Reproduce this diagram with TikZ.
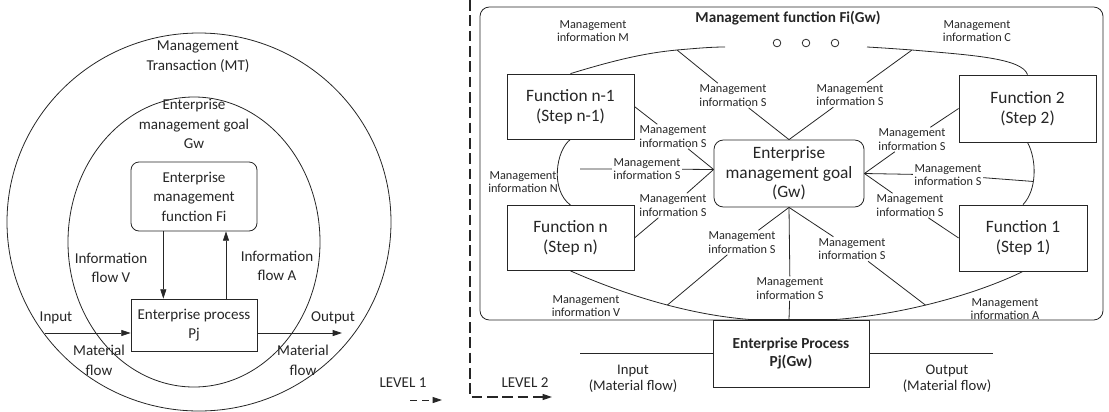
\documentclass[tikz,border=0pt]{standalone}
\usepackage{fontspec}
\setmainfont{Carlito}
\usetikzlibrary{arrows.meta}

\tikzset{
  ln/.style={line width=0.6pt, draw=black!85},
  arr/.style={ln, -{Triangle[length=7pt,width=4.5pt]}},
  lvldash/.style={line width=0.9pt, dash pattern=on 8pt off 3.5pt},
  lefttxt/.style={align=center, inner sep=1pt, text=black!85, font=\fontsize{11.3}{14.6}\selectfont},
  leftbox/.style={lefttxt, ln, inner sep=3pt, minimum width=94.5pt},
  info/.style={align=center, inner sep=1pt, text=black!85, font=\fontsize{9.2}{10}\selectfont},
  iotxt/.style={align=center, inner sep=1pt, text=black!85, font=\fontsize{11}{12.2}\selectfont},
  fnbox/.style={ln, fill=white, align=center, text=black!85, font=\fontsize{13}{15}\selectfont,
    minimum width=95.25pt, minimum height=48.75pt},
}

\begin{document}
\begin{tikzpicture}[x=0.75pt,y=-0.75pt]
    \useasboundingbox (0,0) rectangle (1109,411);

    % level 1
    \draw[ln] (199,222) ellipse [x radius=192, y radius=189];
    \draw[ln] (194,242) ellipse [x radius=126, y radius=145];

    \node[lefttxt] (mtL) at (198,56.5) {Management\\Transaction (MT)};
    \node[lefttxt] (gwL) at (194,124) {Enterprise\\management goal\\Gw};
    \node[leftbox, rounded corners=6pt, minimum height=51.75pt] (fiL) at (194,196.5) {Enterprise\\management\\function Fi};
    \node[leftbox, minimum height=39pt] (pjL) at (194,325) {Enterprise process\\Pj};

    \draw[arr] ([xshift=-23pt]fiL.south) -- ([xshift=-23pt]pjL.north);
    \draw[arr] ([xshift=24pt]pjL.north) -- ([xshift=24pt]fiL.south);
    \node[lefttxt] (ivL) at (111,268) {Information\\flow V};
    \node[lefttxt] (iaL) at (277,266) {Information\\flow A};

    \coordinate (inL) at (45,333);
    \coordinate (outL) at (342,333);
    \draw[arr] (inL) -- (inL -| pjL.west);
    \draw[arr] (outL -| pjL.east) -- (outL);
    \node[lefttxt] (inT) at (56,318) {Input};
    \node[lefttxt] (mfL) at (99,360.5) {Material\\flow};
    \node[lefttxt] (outT) at (333,318) {Output};
    \node[lefttxt] (mfR) at (303,360.5) {Material\\flow};

    % levels
    \node[lefttxt] (lv1) at (403,383) {LEVEL 1};
    \coordinate (lv1a) at (410,400);
    \coordinate (lv1b) at (442,400);
    \draw[arr, dash pattern=on 5pt off 4pt] (lv1a) -- (lv1b);
    \coordinate (vTop) at (470,0);
    \coordinate (vBot) at (470,397);
    \coordinate (lv2b) at (552,397);
    \draw[arr, lvldash] (vTop) -- (vBot) -- (lv2b);
    \node[lefttxt] (lv2) at (525,383) {LEVEL 2};

    % level 2
    \draw[ln, rounded corners=7pt] (480,7) rectangle (1103,320);
    \node[text=black!85, font=\bfseries\fontsize{11.4}{13}\selectfont] (ttl) at (788,18) {Management function Fi(Gw)};
    \foreach \cx in {777,806,835}
        \draw[ln] (\cx,43) circle [radius=3.8];

    \node[fnbox] (fa) at (570.5,106.5) {Function n-1\\(Step n-1)};
    \node[fnbox] (fb) at (570.5,238) {Function n\\(Step n)};
    \node[fnbox, minimum width=102.75pt, minimum height=50.25pt] (f2) at (1027.5,108.5) {Function 2\\(Step 2)};
    \node[fnbox, minimum width=96pt, minimum height=49.5pt] (f1) at (1023,238) {Function 1\\(Step 1)};
    \node[fnbox, rounded corners=7pt, minimum width=112.5pt, minimum height=50.25pt,
        font=\fontsize{13}{14.5}\selectfont] (goal) at (789,173.5) {Enterprise\\management goal\\(Gw)};
    \coordinate (gW) at ([yshift=3pt]goal.west);

    \coordinate (tlb) at (677,50);
    \coordinate (tle) at (725,47);
    \coordinate (trs) at (867,47);
    \coordinate (trb) at (912,50);
    \draw[ln] (fa.north) .. controls (615,60) and (645,53) .. (tlb) .. controls (700,48) and (712,47) .. (tle);
    \draw[ln] (trs) .. controls (885,48) and (898,49) .. (trb) .. controls (970,55) and (1022,58) .. (f2.north);
    \draw[ln] (fa.south) .. controls (556,150) and (550,190) .. (fb.north);
    \draw[ln] (f2.south) .. controls (1037,160) and (1037,190) .. (f1.north) coordinate[pos=0.6] (rC);
    \draw[ln] (fb.south) .. controls (625,295) and (690,315) .. (750,319.5) coordinate[pos=0.55] (bC1)
        -- (835,319.5) .. controls (900,315) and (975,295) .. (f1.south) coordinate[pos=0.45] (bC2);

    \node[info] (mM) at (593,31) {Management\\information M};
    \node[info] (mC) at (977,31) {Management\\information C};
    \node[info] (mN) at (523,182) {Management\\information N};
    \node[info] (mV) at (586,306) {Management\\information V};
    \node[info] (mA) at (1005,309) {Management\\information A};

    \node[info] (sTL) at (733,95.5) {Management\\information S};
    \node[info] (sTR) at (850,95) {Management\\information S};
    \node[info] (sL1) at (673,136.5) {Management\\information S};
    \node[info] (sL2) at (647,169) {Management\\information S};
    \node[info] (sL3) at (673,205.5) {Management\\information S};
    \node[info] (sR1) at (912,139.5) {Management\\information S};
    \node[info] (sR2) at (948,175) {Management\\information S};
    \node[info] (sR3) at (910,205.5) {Management\\information S};
    \node[info] (sB1) at (742,242.5) {Management\\information S};
    \node[info] (sB2) at (790,288.5) {Management\\information S};
    \node[info] (sB3) at (852,249) {Management\\information S};

    \coordinate (nL) at (580,169);
    \draw[ln] (tlb) -- (sTL) -- (goal.north);
    \draw[ln] (trb) -- (sTR) -- (goal.north);
    \draw[ln] (fa.east) -- (sL1) -- (gW);
    \draw[ln] (nL) -- (sL2) -- (gW);
    \draw[ln] (gW) -- (sL3) -- (fb.east);
    \draw[ln] (goal.east) -- (sR1) -- (f2.west);
    \draw[ln] (goal.east) -- (sR2) -- (rC);
    \draw[ln] (goal.east) -- (sR3) -- (f1.west);
    \draw[ln] (goal.south) -- (sB1) -- (bC1);
    \draw[ln] (goal.south) -- (sB3) -- (bC2);

    \node[ln, fill=white, align=center, text=black!85, font=\bfseries\fontsize{11.5}{13.5}\selectfont,
        minimum width=117pt, minimum height=50.25pt] (proc) at (791,353.5) {Enterprise Process\\Pj(Gw)};
    \draw[ln] (goal.south) -- (sB2) -- (goal.south |- proc.north);

    \coordinate (pin) at (580,353.5);
    \coordinate (pout) at (993,353.5);
    \draw[ln] (pin) -- (proc.west);
    \draw[ln] (proc.east) -- (pout);
    \node[iotxt] (inR) at (633,379) {Input\\(Material flow)};
    \node[iotxt] (outR) at (947,379) {Output\\(Material flow)};
\end{tikzpicture}
\end{document}
